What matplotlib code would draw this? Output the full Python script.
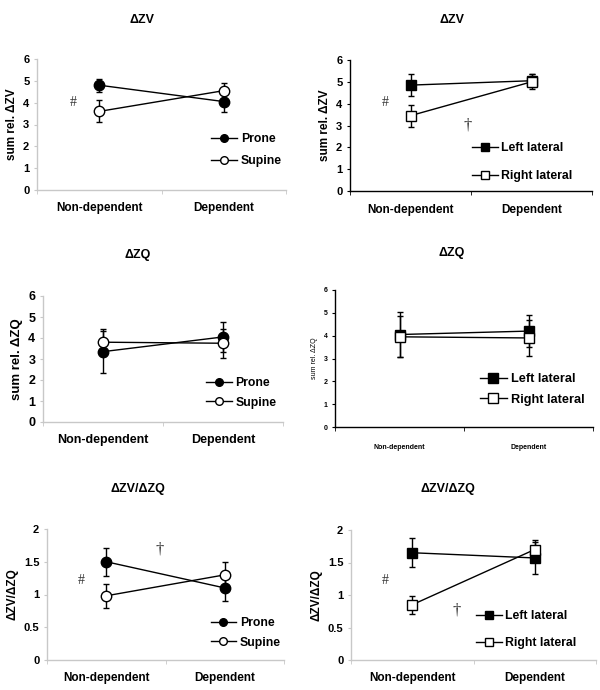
import matplotlib
matplotlib.use("Agg")
import matplotlib.pyplot as plt
from matplotlib.lines import Line2D

plt.rcParams['font.family'] = ['Liberation Sans', 'DejaVu Sans']

categories = ["Non-dependent", "Dependent"]

# Panel data (mean, error)
p1_prone = [4.8, 4.05];  p1_prone_err = [0.3, 0.5]
p1_supine = [3.6, 4.55]; p1_supine_err = [0.5, 0.35]

p2_left = [4.85, 5.05];  p2_left_err = [0.5, 0.3]
p2_right = [3.45, 5.0];  p2_right_err = [0.5, 0.35]

p3_prone = [3.35, 4.05];  p3_prone_err = [1.0, 0.7]
p3_supine = [3.8, 3.75];  p3_supine_err = [0.65, 0.7]

p4_left = [4.05, 4.2];   p4_left_err = [1.0, 0.7]
p4_right = [3.95, 3.9];  p4_right_err = [0.9, 0.8]

p5_prone = [1.5, 1.1];   p5_prone_err = [0.21, 0.2]
p5_supine = [0.98, 1.3]; p5_supine_err = [0.18, 0.2]

p6_left = [1.65, 1.57];  p6_left_err = [0.22, 0.24]
p6_right = [0.85, 1.7];  p6_right_err = [0.14, 0.15]

W, H = 600, 690
fig = plt.figure(figsize=(6, 6.9), dpi=100)

def add_ax(left, top, right, bottom):
    return fig.add_axes([left / W, (H - bottom) / H, (right - left) / W, (bottom - top) / H])

xpos = [0.5, 1.5]

def panel(ax, s1, e1, s2, e2, names, marker, ymax, yticks, ytl, ylabel, title, title_xy,
          spine_color, leg_x, leg_y, leg_spacing, tick_fs=8, cat_fs=8.5, ylab_fs=8.5,
          ylab_bold=True, leg_fs=8.8, cat_pad=9, leg_ms=5.5):
    ax.errorbar(xpos, s1, yerr=e1, color='black', lw=1, marker=marker, ms=7.5,
                mfc='black', mec='black', capsize=2.5, elinewidth=1, capthick=1, zorder=3)
    ax.errorbar(xpos, s2, yerr=e2, color='black', lw=1, marker=marker, ms=7.5,
                mfc='white', mec='black', capsize=2.5, elinewidth=1, capthick=1, zorder=3)
    ax.set_xlim(0, 2)
    ax.set_ylim(0, ymax)
    ax.set_yticks(yticks)
    ax.set_yticklabels(ytl, fontsize=tick_fs, fontweight='bold')
    ax.set_xticks(xpos)
    ax.set_xticklabels(categories, fontsize=cat_fs, fontweight='bold')
    ax.tick_params(axis='x', which='major', length=0, pad=cat_pad)
    ax.set_xticks([0, 1, 2], minor=True)
    ax.tick_params(axis='x', which='minor', length=3, color=spine_color, direction='out')
    ax.tick_params(axis='y', length=2.5, color=spine_color, pad=3)
    for s in ['top', 'right']:
        ax.spines[s].set_visible(False)
    for s in ['left', 'bottom']:
        ax.spines[s].set_color(spine_color)
        ax.spines[s].set_linewidth(1)
    ax.spines['left'].set_bounds(0, ymax)
    ax.set_ylabel(ylabel, fontsize=ylab_fs, fontweight='bold' if ylab_bold else 'normal', labelpad=4)
    fig.text(title_xy[0] / W, 1 - title_xy[1] / H, title, fontsize=9, fontweight='bold',
             ha='center', va='center')
    handles = [
        Line2D([], [], color='black', lw=1, marker=marker, ms=leg_ms, mfc='black', mec='black'),
        Line2D([], [], color='black', lw=1, marker=marker, ms=leg_ms, mfc='white', mec='black'),
    ]
    ax.legend(handles, names, loc='center left', bbox_to_anchor=(leg_x, leg_y),
              frameon=False, borderpad=0, borderaxespad=0, handlelength=2.1,
              handletextpad=0.3, labelspacing=leg_spacing,
              prop={'size': leg_fs, 'weight': 'bold'})

def mark(ax, x, y, s, fs=10):
    ax.text(x, y, s, fontsize=fs, family=['Liberation Serif', 'DejaVu Serif'],
            ha='center', va='center', color='#333333')

light = '#c8c8c8'

ax1 = add_ax(37, 59, 286, 190)
panel(ax1, p1_prone, p1_prone_err, p1_supine, p1_supine_err, ["Prone", "Supine"], 'o',
      6, range(7), [str(i) for i in range(7)], "sum rel. ΔZV", "ΔZV", (142, 20),
      light, 0.70, 0.305, 0.8)
mark(ax1, 0.29, 4.0, "#")

ax2 = add_ax(350, 60, 592, 191)
panel(ax2, p2_left, p2_left_err, p2_right, p2_right_err, ["Left lateral", "Right lateral"], 's',
      6, range(7), [str(i) for i in range(7)], "sum rel. ΔZV", "ΔZV", (452, 20),
      'black', 0.504, 0.218, 1.3)
mark(ax2, 0.29, 4.05, "#")
mark(ax2, 0.97, 3.0, "†", fs=12)

ax3 = add_ax(43, 296, 283, 422)
panel(ax3, p3_prone, p3_prone_err, p3_supine, p3_supine_err, ["Prone", "Supine"], 'o',
      6, range(7), [str(i) for i in range(7)], "sum rel. ΔZQ", "ΔZQ", (138, 255),
      light, 0.68, 0.23, 0.6, tick_fs=9, cat_fs=9, ylab_fs=9.5)

ax4 = add_ax(335, 290, 593, 427)
panel(ax4, p4_left, p4_left_err, p4_right, p4_right_err, ["Left lateral", "Right lateral"], 's',
      6, range(7), [str(i) for i in range(7)], "sum rel. ΔZQ", "ΔZQ", (452, 253),
      'black', 0.562, 0.274, 0.7, tick_fs=5, cat_fs=5, ylab_fs=5, ylab_bold=False,
      leg_fs=9.2, cat_pad=12, leg_ms=6.5)

ax5 = add_ax(47, 529, 284, 660)
panel(ax5, p5_prone, p5_prone_err, p5_supine, p5_supine_err, ["Prone", "Supine"], 'o',
      2, [0, 0.5, 1, 1.5, 2], ["0", "0.5", "1", "1.5", "2"], "ΔZV/ΔZQ", "ΔZV/ΔZQ", (138, 489),
      light, 0.69, 0.206, 0.6)
mark(ax5, 0.29, 1.22, "#")
mark(ax5, 0.95, 1.68, "†", fs=12)

ax6 = add_ax(351, 530, 596, 660)
panel(ax6, p6_left, p6_left_err, p6_right, p6_right_err, ["Left lateral", "Right lateral"], 's',
      2, [0, 0.5, 1, 1.5, 2], ["0", "0.5", "1", "1.5", "2"], "ΔZV/ΔZQ", "ΔZV/ΔZQ", (448, 489),
      light, 0.51, 0.235, 1.2)
mark(ax6, 0.28, 1.23, "#")
mark(ax6, 0.86, 0.76, "†", fs=12)

fig.savefig("out.png", dpi=100, facecolor='white')
